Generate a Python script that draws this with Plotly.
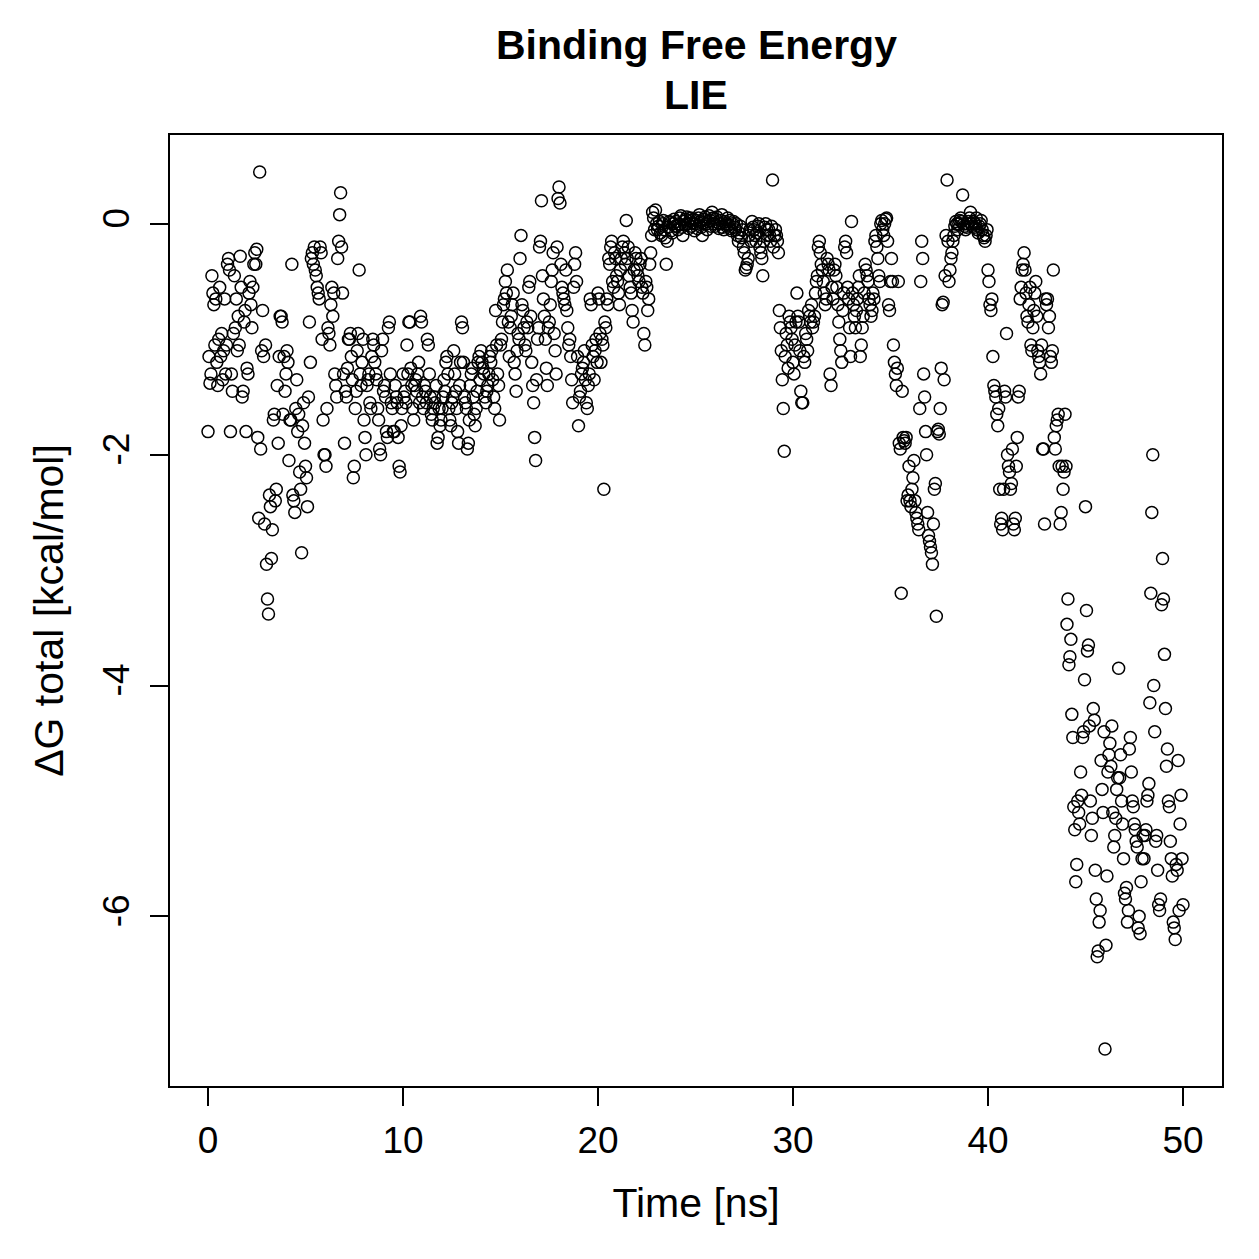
import plotly.graph_objects as go

# ΔG total [kcal/mol], one row per nanosecond (points evenly spaced inside each ns)
dg_00_10 = [
    [-1.8, -1.15, -1.38, -1.3, -0.45, -0.6, -0.7, -1.05, -0.65, -1.2, -1.4, -1.0, -0.55, -1.15, -0.95, -1.35, -1.1, -0.65, -1.3, -1.05],
    [-0.35, -0.3, -0.4, -1.8, -1.3, -1.45, -0.95, -0.45, -0.9, -0.65, -1.1, -0.8, -1.05, -0.28, -0.55, -1.5, -1.45, -0.85, -0.75, -1.8],
    [-1.25, -1.3, -0.6, -0.5, -0.7, -0.9, -0.55, -0.35, -0.25, -0.35, -0.22, -1.85, -2.55, 0.45, -1.95, -1.1, -0.75, -1.15, -2.6, -1.05],
    [-2.95, -3.25, -3.38, -2.35, -2.45, -2.9, -2.65, -1.7, -1.65, -2.4, -2.3, -1.4, -1.9, -1.15, -0.8, -0.8, -0.85, -1.65, -1.15, -1.45],
    [-1.3, -1.1, -1.2, -2.05, -1.7, -1.7, -0.35, -2.35, -2.4, -2.5, -1.6, -1.35, -1.8, -1.65, -2.15, -2.3, -2.85, -1.75, -1.55, -1.9],
    [-2.1, -2.2, -2.45, -1.5, -0.85, -1.2, -0.3, -0.25, -0.35, -0.2, -0.4, -0.45, -0.55, -0.6, -0.65, -0.2, -0.25, -1.0, -1.7, -2.0],
    [-2.0, -2.1, -1.6, -0.9, -0.95, -1.05, -0.7, -0.55, -0.8, -0.6, -1.3, -1.4, -1.5, -0.3, -0.15, 0.08, 0.27, -0.2, -0.6, -1.3],
    [-1.9, -1.45, -1.5, -1.25, -1.0, -1.0, -0.95, -1.15, -1.35, -2.2, -2.1, -1.6, -1.45, -1.1, -0.95, -0.4, -1.3, -1.4, -1.2, -1.0],
    [-1.7, -1.85, -2.0, -1.4, -1.35, -1.3, -1.55, -1.6, -1.15, -1.0, -1.05, -1.2, -1.3, -1.35, -1.6, -1.7, -1.95, -2.0, -1.1, -1.0],
    [-1.45, -1.4, -1.5, -1.8, -1.85, -0.9, -0.85, -1.3, -1.55, -1.6, -1.8, -1.8, -1.4, -1.5, -1.55, -1.85, -2.1, -2.15, -1.75, -1.6],
]
dg_10_20 = [
    [-1.3, -1.5, -1.45, -1.55, -1.05, -1.3, -0.85, -0.85, -1.25, -1.4, -1.6, -1.7, -1.4, -1.35, -1.45, -1.3, -1.2, -1.55, -0.8, -0.85],
    [-1.5, -1.6, -1.4, -1.45, -1.55, -1.0, -1.05, -1.3, -1.5, -1.65, -1.7, -1.6, -1.5, -1.55, -1.4, -1.9, -1.85, -1.6, -1.75, -1.7],
    [-1.6, -1.5, -1.35, -1.45, -1.2, -1.15, -1.3, -1.6, -1.7, -1.75, -1.55, -1.5, -1.1, -1.3, -1.45, -1.6, -1.8, -1.9, -1.4, -1.2],
    [-0.85, -0.9, -1.2, -1.5, -1.55, -1.6, -1.95, -1.9, -1.7, -1.4, -1.3, -1.25, -1.5, -1.65, -1.75, -1.6, -1.45, -1.2, -1.15, -1.35],
    [-1.1, -1.2, -1.25, -1.3, -1.5, -1.55, -1.45, -1.4, -1.3, -1.15, -1.2, -1.1, -1.35, -1.5, -1.6, -0.75, -1.05, -1.3, -1.4, -1.7],
    [-1.05, -1.0, -0.85, -0.7, -0.65, -0.5, -0.6, -0.4, -0.85, -1.15, -0.9, -0.8, -0.7, -0.6, -1.2, -1.3, -1.45, -1.1, -0.95, -1.0],
    [-0.3, -0.1, -0.7, -0.75, -0.9, -1.05, -1.1, -0.85, -0.9, -0.55, -0.5, -0.8, -1.2, -1.4, -1.55, -1.85, -2.05, -1.35, -1.0, -0.9],
    [-0.2, -0.15, 0.2, -0.45, -0.65, -0.8, -1.0, -1.25, -1.4, -0.9, -0.85, -0.7, -0.5, -0.4, -0.25, -0.95, -1.1, -1.3, -0.2, 0.22],
    [0.32, 0.18, -0.35, -0.55, -0.6, -0.65, -0.7, -0.4, -0.75, -0.9, -1.05, -1.0, -1.15, -1.35, -1.55, -0.55, -0.35, -0.25, -0.5, -1.15],
    [-1.75, -1.5, -1.45, -1.3, -1.25, -1.2, -1.1, -1.35, -1.55, -1.6, -1.4, -1.3, -0.65, -0.7, -1.05, -1.15, -1.35, -1.1, -1.0, -1.2],
]
dg_20_30 = [
    [-0.6, -0.65, -0.95, -1.2, -1.0, -1.05, -2.3, -0.85, -0.9, -0.65, -0.7, -0.3, -0.35, -0.2, -0.15, -0.5, -0.55, -0.25, -0.3, -0.45],
    [-0.5, -0.6, -0.7, -0.4, -0.3, -0.2, -0.15, -0.25, -0.35, 0.03, -0.3, -0.2, -0.45, -0.55, -0.6, -0.75, -0.85, -0.4, -0.25, -0.3],
    [-0.4, -0.45, -0.5, -0.35, -0.3, -0.55, -0.6, -0.95, -1.05, -0.5, -0.55, -0.75, -0.65, -0.35, -0.25, -0.1, 0.1, 0.05, -0.05, 0.12],
    [0.0, -0.05, -0.02, 0.02, -0.08, -0.1, 0.0, 0.03, -0.05, -0.12, -0.35, -0.15, -0.03, 0.02, 0.01, -0.06, -0.08, 0.0, 0.04, -0.02],
    [0.02, -0.02, -0.05, 0.0, 0.05, 0.07, -0.03, -0.1, 0.02, -0.01, 0.04, 0.06, 0.0, -0.04, 0.03, 0.05, -0.02, 0.01, 0.04, -0.06],
    [0.0, 0.03, -0.04, 0.05, 0.08, 0.02, -0.03, -0.1, 0.01, 0.04, 0.06, 0.0, -0.05, 0.02, 0.07, 0.03, -0.02, 0.1, 0.05, 0.0],
    [-0.02, 0.04, 0.06, 0.01, -0.04, 0.0, 0.03, 0.08, -0.03, -0.05, 0.02, 0.0, -0.02, 0.05, -0.01, 0.03, -0.04, -0.06, 0.0, 0.02],
    [-0.03, -0.05, 0.0, -0.1, -0.15, -0.08, -0.02, -0.12, -0.05, -0.2, -0.25, -0.4, -0.38, -0.35, -0.3, -0.1, -0.05, -0.15, 0.02, -0.03],
    [-0.05, -0.1, -0.15, -0.08, -0.02, 0.0, -0.2, -0.25, -0.3, -0.45, -0.15, -0.03, 0.0, -0.05, -0.1, -0.05, -0.1, -0.15, -0.02, 0.38],
    [-0.2, -0.1, -0.05, -0.1, -0.15, -0.25, -0.75, -0.9, -1.1, -1.35, -1.6, -1.97, -1.15, -0.95, -1.05, -1.25, -0.8, -0.85, -0.9, -1.0],
]
dg_30_40 = [
    [-1.2, -1.3, -1.05, -0.85, -0.6, -0.8, -0.85, -1.1, -1.45, -1.55, -1.55, -1.15, -1.2, -0.95, -1.0, -1.1, -0.75, -0.8, -0.85, -0.7],
    [-0.9, -0.85, -0.8, -0.6, -0.5, -0.45, -0.2, -0.15, -0.25, -0.35, -0.4, -0.5, -0.6, -0.7, -0.65, -0.3, -0.35, -0.4, -1.3, -1.4],
    [-0.55, -0.65, -0.4, -0.35, -0.45, -0.55, -0.7, -0.85, -1.0, -1.1, -1.2, -0.75, -0.6, -0.2, -0.15, -0.25, -0.55, -0.65, -0.9, -1.15],
    [0.02, -0.6, -0.7, -0.8, -0.9, -0.75, -0.65, -0.55, -0.45, -1.15, -1.05, -0.9, -0.8, -0.6, -0.35, -0.4, -0.45, -0.5, -0.65, -0.7],
    [-0.8, -0.75, -0.6, -0.65, -0.15, -0.1, -0.2, -0.3, -0.45, -0.5, 0.0, 0.03, -0.05, -0.1, 0.0, 0.04, 0.05, -0.15, -0.7, -0.75],
    [-0.5, -0.3, -0.5, -1.05, -1.2, -1.3, -1.4, -1.25, -0.5, -1.9, -1.95, -3.2, -1.45, -1.85, -1.88, -1.9, -1.85, -2.4, -2.35, -2.1],
    [-2.4, -2.45, -2.3, -2.2, -2.05, -2.4, -2.5, -2.55, -2.6, -2.65, -1.6, -0.5, -0.15, -0.3, -1.3, -1.5, -1.8, -2.0, -2.5, -2.7],
    [-2.75, -2.8, -2.85, -2.95, -2.6, -2.3, -2.25, -3.4, -1.8, -1.78, -1.82, -1.6, -1.25, -0.7, -0.68, -1.35, -0.45, -0.1, 0.38, -0.15],
    [-0.5, -0.4, -0.3, -0.25, -0.15, -0.1, -0.02, 0.02, 0.0, -0.05, 0.0, 0.03, 0.05, 0.02, 0.25, 0.0, -0.02, -0.05, -0.03, 0.0],
    [0.02, 0.05, 0.1, 0.0, -0.02, 0.02, -0.03, 0.0, 0.05, -0.05, -0.08, -0.02, 0.0, 0.03, -0.05, -0.1, -0.12, -0.15, -0.1, -0.05],
]
dg_40_50 = [
    [-0.4, -0.5, -0.7, -0.75, -0.65, -1.15, -1.4, -1.45, -1.5, -1.65, -1.75, -1.6, -2.3, -2.6, -2.55, -2.65, -2.3, -1.45, -1.5, -0.95],
    [-2.0, -2.1, -2.15, -2.3, -2.25, -1.95, -2.6, -2.65, -2.55, -2.1, -1.85, -1.5, -1.45, -0.65, -0.55, -0.4, -0.35, -0.25, -0.4, -0.6],
    [-0.8, -0.85, -0.7, -0.55, -1.05, -1.1, -0.9, -0.75, -0.6, -0.5, -0.8, -1.1, -1.15, -1.2, -1.3, -1.05, -1.95, -1.95, -2.6, -0.65],
    [-0.7, -0.65, -0.9, -0.8, -1.15, -1.2, -1.1, -0.4, -1.85, -1.95, -1.75, -1.7, -1.65, -2.1, -2.6, -2.5, -2.1, -2.3, -2.15, -1.65],
    [-2.1, -3.47, -3.25, -3.82, -3.75, -3.6, -4.25, -4.45, -5.05, -5.25, -5.7, -5.55, -5.0, -5.1, -5.2, -4.75, -4.95, -4.45, -4.4, -3.95],
    [-2.45, -3.35, -3.7, -3.65, -4.35, -5.0, -5.3, -5.15, -4.2, -4.3, -5.6, -5.85, -6.35, -6.3, -6.05, -5.95, -4.65, -4.9, -5.1, -4.4],
    [-7.15, -6.25, -5.65, -4.75, -4.6, -4.5, -4.7, -4.35, -5.1, -5.4, -5.3, -5.15, -4.9, -4.8, -3.85, -4.8, -4.6, -5.0, -5.2, -5.5],
    [-5.8, -5.85, -5.75, -6.05, -5.95, -4.55, -4.45, -4.75, -5.0, -5.05, -5.2, -5.25, -5.35, -5.4, -6.1, -6.0, -6.15, -5.7, -5.5, -5.3],
    [-5.5, -5.3, -5.25, -5.0, -4.95, -4.85, -4.15, -3.2, -2.5, -2.0, -4.0, -4.4, -5.35, -5.3, -5.6, -5.9, -5.95, -5.85, -3.3, -2.9],
    [-3.25, -3.73, -4.2, -4.7, -4.55, -5.0, -5.05, -5.35, -5.5, -5.65, -6.05, -6.1, -6.2, -5.55, -5.6, -4.65, -5.95, -5.2, -4.95, -5.5],
]
dg_end = [-5.9]

x_ticks = [0, 10, 20, 30, 40, 50]
y_ticks = [-6, -4, -2, 0]
title_lines = ["Binding Free Energy", "LIE"]

time, dg = [], []
for k, row in enumerate(dg_00_10 + dg_10_20 + dg_20_30 + dg_30_40 + dg_40_50):
    n = len(row)
    for i, v in enumerate(row):
        time.append(k + i / n)
        dg.append(v)
time.append(50.0)
dg.extend(dg_end)

FONT = "Liberation Sans, Arial, Helvetica, sans-serif"
TOP, BOTTOM = 135, 1086
H = BOTTOM - TOP

fig = go.Figure()
fig.add_trace(go.Scatter(
    x=time, y=dg, mode="markers",
    marker=dict(symbol="circle-open", size=12, color="black", line=dict(width=1.5, color="black")),
    showlegend=False, hoverinfo="x+y",
))

for text, py in zip(title_lines, [45, 95]):
    fig.add_annotation(text="<b>%s</b>" % text, xref="paper", yref="paper",
                       x=0.5, y=(BOTTOM - py) / H, xanchor="center", yanchor="middle",
                       showarrow=False, font=dict(size=41, family=FONT, color="black"))

fig.update_layout(
    width=1259, height=1259,
    paper_bgcolor="white", plot_bgcolor="white",
    margin=dict(l=170, r=37, t=TOP, b=1259 - BOTTOM),
    font=dict(family=FONT, size=37, color="black"),
    xaxis=dict(range=[-1.95, 52.0], tickvals=x_ticks, ticktext=[str(v) for v in x_ticks],
               showgrid=False, zeroline=False, showline=True, linecolor="black", linewidth=2,
               mirror=True, ticks="outside", ticklen=18, tickwidth=2, tickcolor="black",
               ticklabelstandoff=3,
               title=dict(text="Time [ns]", standoff=28, font=dict(size=41)),
               tickfont=dict(size=37)),
    yaxis=dict(range=[-7.47, 0.77], tickvals=y_ticks, ticktext=[str(v) for v in y_ticks],
               showgrid=False, zeroline=False, showline=True, linecolor="black", linewidth=2,
               mirror=True, ticks="outside", ticklen=18, tickwidth=2, tickcolor="black",
               tickangle=-90, ticklabelstandoff=6,
               title=dict(text="ΔG total [kcal/mol]", standoff=20, font=dict(size=41)),
               tickfont=dict(size=37)),
)

fig.write_html("out.html")
